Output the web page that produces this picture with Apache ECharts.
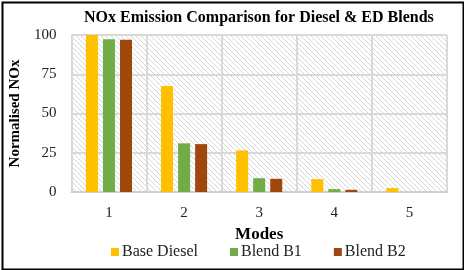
<!DOCTYPE html>
<html><head><meta charset="utf-8">
<script src="https://cdn.jsdelivr.net/npm/echarts@6/dist/echarts.min.js"></script>
<style>html,body{margin:0;padding:0;background:#fff}#c{width:464px;height:270px}</style>
</head><body><div id="c"></div>
<script>
const categories = ['1','2','3','4','5'];
const baseDiesel = [100, 67.5, 26.5, 8.2, 2.5];
const blendB1 = [97.3, 31, 8.8, 1.8, 0];
const blendB2 = [97, 30.5, 8.4, 1.4, 0];
const yTicks = [0, 25, 50, 75, 100];

const pc = document.createElement('canvas');
pc.width = 5; pc.height = 5;
const g = pc.getContext('2d');
g.fillStyle = '#ffffff'; g.fillRect(0,0,5,5);
g.strokeStyle = '#d6d6d6'; g.lineWidth = 1;
g.beginPath();
g.moveTo(-1,-1); g.lineTo(6,6);
g.moveTo(-1,4); g.lineTo(1,6);
g.moveTo(4,-1); g.lineTo(6,1);
g.stroke();

const chart = echarts.init(document.getElementById('c'), null, {renderer:'canvas'});
const serif = '"Liberation Serif", "Times New Roman", serif';
chart.setOption({
  animation: false,
  backgroundColor: '#fff',
  title: {
    text: 'NOx Emission Comparison for Diesel & ED Blends',
    left: 79, top: 5,
    textStyle: {fontFamily: serif, fontSize: 16, fontWeight: 'bold', color: '#000'}
  },
  legend: {
    top: 244, left: 111, padding: 0,
    itemWidth: 8, itemHeight: 8, itemGap: 32,
    icon: 'rect',
    textStyle: {fontFamily: serif, fontSize: 16, color: '#222', padding: [0,0,0,-2]},
    data: ['Base Diesel','Blend B1','Blend B2']
  },
  grid: {
    left: 68, right: 17, top: 35, bottom: 78,
    show: true, borderWidth: 0,
    backgroundColor: {image: pc, repeat: 'repeat'}
  },
  xAxis: {
    type: 'category', data: categories,
    name: 'Modes', nameLocation: 'middle', nameGap: 31,
    nameTextStyle: {fontFamily: serif, fontSize: 17, fontWeight: 'bold', color: '#000'},
    axisLine: {lineStyle: {color: '#d0d0d0', width: 2}},
    axisTick: {show: false},
    axisLabel: {fontFamily: serif, fontSize: 15, color: '#222', margin: 14},
    splitLine: {show: true, lineStyle: {color: '#d9d9d9', width: 2}}
  },
  yAxis: {
    type: 'value', min: 0, max: 100, interval: 25,
    name: 'Normalised NOx', nameLocation: 'middle', nameGap: 43,
    nameTextStyle: {fontFamily: serif, fontSize: 15, fontWeight: 'bold', color: '#000'},
    axisLine: {show: false}, axisTick: {show: false},
    axisLabel: {fontFamily: serif, fontSize: 15, color: '#222', margin: 15,
      formatter: v => yTicks.includes(v) ? String(v) : ''},
    splitLine: {lineStyle: {color: '#d9d9d9', width: 2}}
  },
  series: [
    {name: 'Base Diesel', type: 'bar', data: baseDiesel, barWidth: 12, barGap: '42%', itemStyle: {color: '#FFC000'}},
    {name: 'Blend B1', type: 'bar', data: blendB1, barWidth: 12, barGap: '42%', itemStyle: {color: '#70AD47'}},
    {name: 'Blend B2', type: 'bar', data: blendB2, barWidth: 12, barGap: '42%', itemStyle: {color: '#9E480E'}}
  ],
  graphic: [{
    type: 'rect', left: 0, top: 0, silent: true, z: 100,
    shape: {x: 1, y: 1, width: 461, height: 267},
    style: {fill: 'none', stroke: '#000', lineWidth: 2}
  }]
});
</script></body></html>
